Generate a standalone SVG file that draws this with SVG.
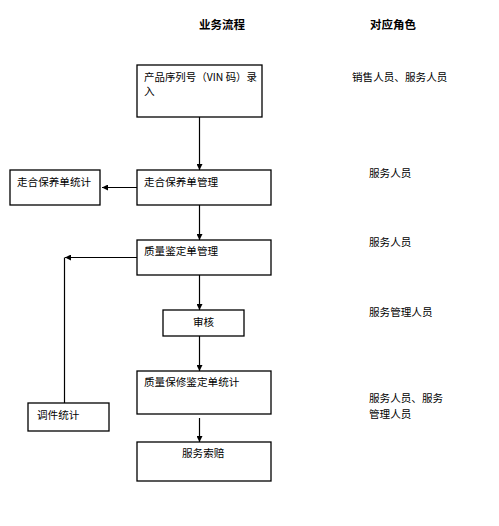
<svg xmlns="http://www.w3.org/2000/svg" width="499" height="526" viewBox="0 0 499 526">
<defs>
<style>
.box{fill:#fff;stroke:#000;stroke-width:1.3}
.t{font-family:"Noto Sans CJK SC","Liberation Sans",sans-serif;font-size:10.6px;fill:#000}
.h{font-family:"Noto Sans CJK SC","Liberation Sans",sans-serif;font-size:11.5px;font-weight:bold;fill:#000}
.c{fill:none;stroke:#000;stroke-width:1.2}
</style>
<marker id="ah" viewBox="0 0 6 6" refX="6" refY="3" markerWidth="6" markerHeight="6" markerUnits="userSpaceOnUse" orient="auto">
<path d="M0,0 L6,3 L0,6 Z" fill="#000"/>
</marker>
</defs>
<rect width="499" height="526" fill="#fff"/>
<g id="headers">
<text class="h" x="199" y="29">业务流程</text>
<text class="h" x="370" y="29">对应角色</text>
</g>
<g id="roles">
<text class="t" x="352" y="81">销售人员、服务人员</text>
<text class="t" x="369" y="177">服务人员</text>
<text class="t" x="369" y="246">服务人员</text>
<text class="t" x="369" y="316">服务管理人员</text>
<text class="t" x="369" y="402">服务人员、服务</text>
<text class="t" x="369" y="418">管理人员</text>
</g>
<g id="connectors">
<line class="c" x1="199.5" y1="117" x2="199.5" y2="170" marker-end="url(#ah)"/>
<line class="c" x1="137" y1="187.5" x2="102" y2="187.5" marker-end="url(#ah)"/>
<line class="c" x1="199.5" y1="205" x2="199.5" y2="240" marker-end="url(#ah)"/>
<line class="c" x1="64.5" y1="403" x2="64.5" y2="257.5"/>
<line class="c" x1="137" y1="257.5" x2="65" y2="257.5" marker-end="url(#ah)"/>
<line class="c" x1="199.5" y1="275" x2="199.5" y2="310" marker-end="url(#ah)"/>
<line class="c" x1="199.5" y1="336" x2="199.5" y2="371" marker-end="url(#ah)"/>
<line class="c" x1="199.5" y1="418" x2="199.5" y2="442" marker-end="url(#ah)"/>
</g>
<g id="n1">
<rect class="box" x="137" y="65" width="125" height="52"/>
<text class="t" x="144" y="81" textLength="113" lengthAdjust="spacingAndGlyphs">产品序列号（VIN 码）录</text>
<text class="t" x="144" y="94.5">入</text>
</g>
<g id="n2">
<rect class="box" x="137" y="170" width="134" height="35"/>
<text class="t" x="144" y="186">走合保养单管理</text>
</g>
<g id="n3">
<rect class="box" x="10" y="170" width="90" height="35"/>
<text class="t" x="17" y="186">走合保养单统计</text>
</g>
<g id="n4">
<rect class="box" x="137" y="240" width="134" height="35"/>
<text class="t" x="144" y="255">质量鉴定单管理</text>
</g>
<g id="n5">
<rect class="box" x="163" y="310" width="81" height="26"/>
<text class="t" x="193" y="326">审核</text>
</g>
<g id="n6">
<rect class="box" x="137" y="371" width="134" height="43"/>
<text class="t" x="144" y="386">质量保修鉴定单统计</text>
</g>
<g id="n7">
<rect class="box" x="28" y="403" width="81" height="28"/>
<text class="t" x="37" y="419">调件统计</text>
</g>
<g id="n8">
<rect class="box" x="137" y="442" width="134" height="39"/>
<text class="t" x="182" y="457">服务索赔</text>
</g>
</svg>
